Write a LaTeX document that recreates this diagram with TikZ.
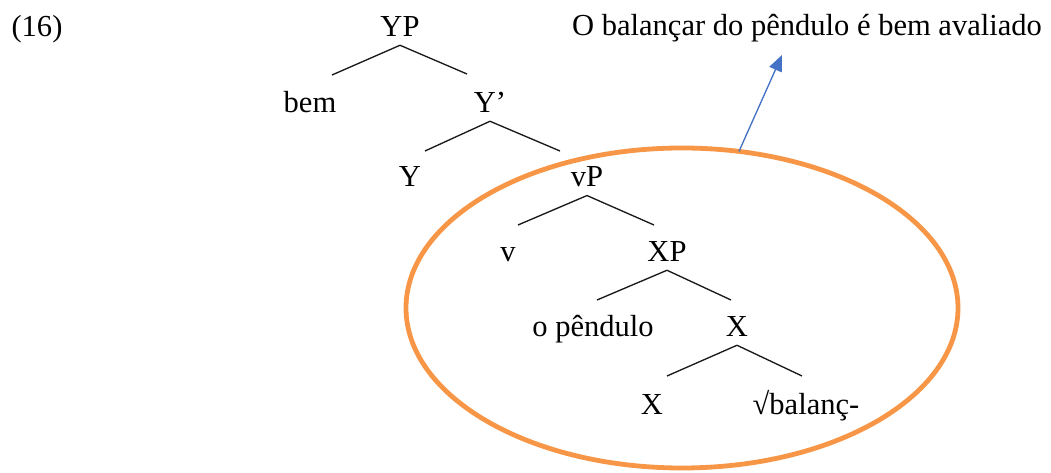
\documentclass[tikz,border=0pt]{standalone}
\usepackage{fontspec}
\setmainfont{Liberation Serif}
\usetikzlibrary{arrows.meta,shapes.geometric}
\definecolor{ringorange}{RGB}{247,150,70}
\definecolor{pointerblue}{RGB}{68,114,196}

\begin{document}
\begin{tikzpicture}[x=0.75pt, y=-0.75pt, >={Triangle[length=12pt, width=10pt]},
    lbl/.style={anchor=base, inner xsep=2pt, inner ysep=6pt, font=\fontsize{22.9}{27}\selectfont},
    branch/.style={line width=1pt, black!90}]
  \newcommand{\forkat}[3]{% parent, left end, right end
    \draw[branch] (#2) -- (#1.south) -- (#3);}
  \useasboundingbox (0,0) rectangle (1051,473);
  % ================================================================== labels
  \node[lbl] (ex) at (37,37) {(16)};
  \node[lbl] (title) at (807,36) {O balançar do pêndulo é bem avaliado};
  % ================================================================== the tree
  \node[lbl] (YP)   at (400,37)  {YP};
  \node[lbl] (bem)  at (310,113) {bem};
  \node[lbl] (Ybar) at (490,113) {Y’};
  \node[lbl] (Y)    at (410,187) {Y};
  \node[lbl] (vP)   at (587,187) {vP};
  \node[lbl] (v)    at (508,262) {v};
  \node[lbl] (XP)   at (667,262) {XP};
  \node[lbl] (pend) at (593,337) {o pêndulo};
  \node[lbl] (Xbar) at (737,337) {X};
  \node[lbl] (X)    at (652,415) {X};
  \node[lbl] (root) at (806,415) {√balanç-};
  \coordinate (YP-l) at (332,75);    \coordinate (YP-r) at (467,74);
  \coordinate (Ybar-l) at (425,151); \coordinate (Ybar-r) at (560,151);
  \coordinate (vP-l) at (518,225);   \coordinate (vP-r) at (654,225);
  \coordinate (XP-l) at (597,300);   \coordinate (XP-r) at (731,300);
  \coordinate (Xbar-l) at (667,376); \coordinate (Xbar-r) at (802,376);
  \forkat{YP}{YP-l}{YP-r}
  \forkat{Ybar}{Ybar-l}{Ybar-r}
  \forkat{vP}{vP-l}{vP-r}
  \forkat{XP}{XP-l}{XP-r}
  \forkat{Xbar}{Xbar-l}{Xbar-r}
  % ================================================================== the circled vP and its reading
  \node[ellipse, draw=ringorange, line width=3.6pt, outer sep=0pt, inner sep=0pt,
        minimum width=414pt, minimum height=240pt] (ring) at (682,308) {};
  \coordinate (tip) at (782,55);
  \draw[->, pointerblue, line width=1pt] (ring.70) -- (tip);
\end{tikzpicture}
\end{document}
